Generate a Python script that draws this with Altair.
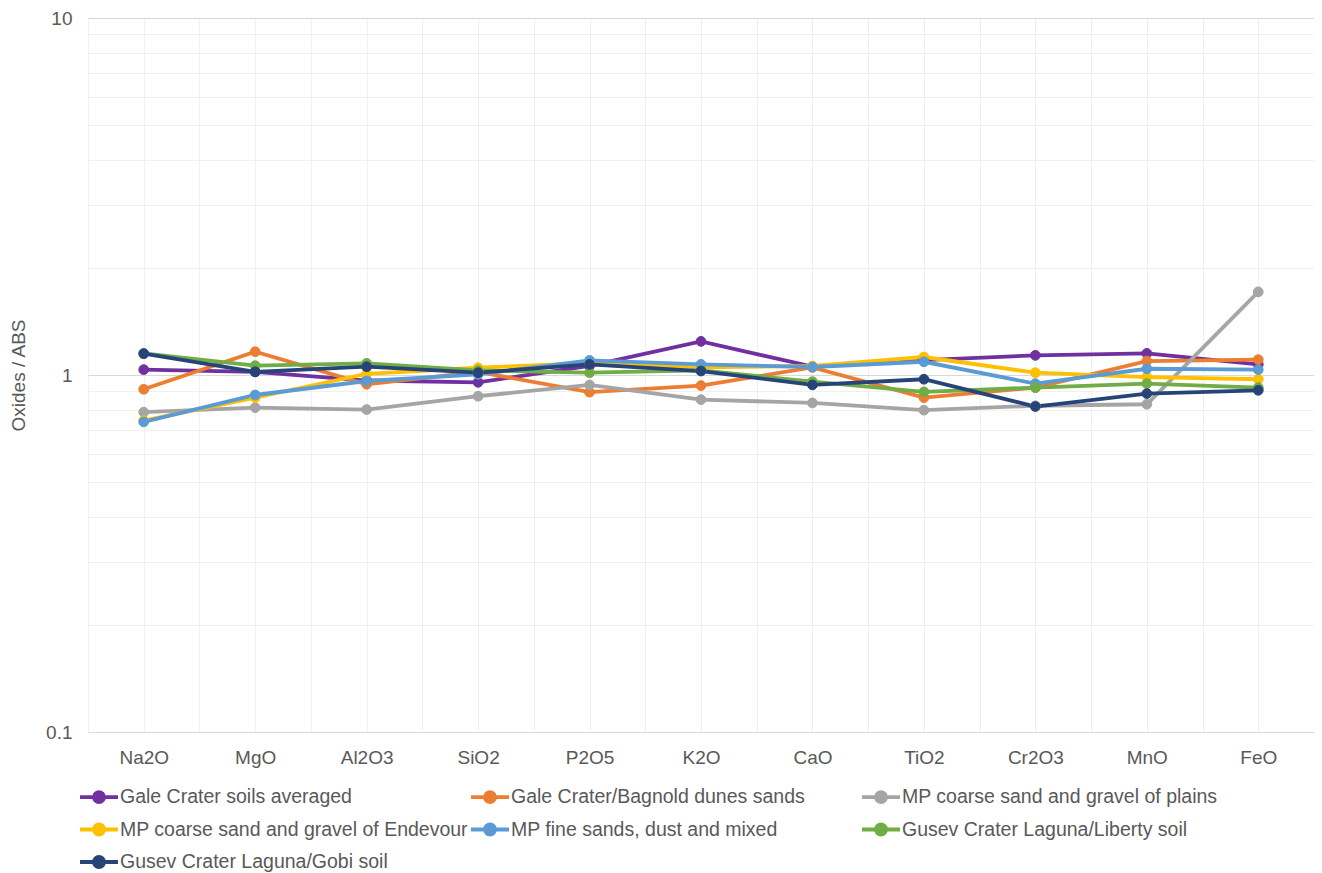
import altair as alt
import pandas as pd

oxides = ["Na2O", "MgO", "Al2O3", "SiO2", "P2O5", "K2O", "CaO", "TiO2", "Cr2O3", "MnO", "FeO"]

series_names = [
    "Gale Crater soils averaged",
    "Gale Crater/Bagnold dunes sands",
    "MP coarse sand and gravel of plains",
    "MP coarse sand and gravel of Endevour",
    "MP fine sands, dust and mixed",
    "Gusev Crater Laguna/Liberty soil",
    "Gusev Crater Laguna/Gobi soil",
]
series_colors = ["#7030A0", "#ED7D31", "#A5A5A5", "#FFC000", "#5B9BD5", "#70AD47", "#264478"]

gale_soils = [1.035, 1.02, 0.965, 0.954, 1.06, 1.242, 1.055, 1.10, 1.135, 1.150, 1.071]
gale_bagnold = [0.912, 1.162, 0.942, 1.02, 0.895, 0.934, 1.05, 0.864, 0.922, 1.094, 1.104]
mp_plains = [0.787, 0.810, 0.800, 0.872, 0.938, 0.853, 0.835, 0.797, 0.82, 0.828, 1.709]
mp_endevour = [0.745, 0.864, 1.008, 1.048, 1.08, 1.05, 1.06, 1.123, 1.015, 0.987, 0.973]
mp_fine = [0.739, 0.879, 0.962, 1.004, 1.099, 1.071, 1.053, 1.089, 0.946, 1.041, 1.035]
gusev_liberty = [1.15, 1.062, 1.078, 1.03, 1.015, 1.03, 0.958, 0.897, 0.922, 0.946, 0.922]
gusev_gobi = [1.147, 1.021, 1.055, 1.015, 1.071, 1.026, 0.938, 0.973, 0.816, 0.887, 0.906]

all_series = [gale_soils, gale_bagnold, mp_plains, mp_endevour, mp_fine, gusev_liberty, gusev_gobi]

rows = []
for s_i, (name, vals) in enumerate(zip(series_names, all_series)):
    for i, (ox, v) in enumerate(zip(oxides, vals)):
        rows.append({"idx": i, "oxide": ox, "series": name, "order": s_i, "value": v})
df = pd.DataFrame(rows)

FONT = "Liberation Sans"
TXT = "#595959"

x_vals = [round(-0.5 + 0.5 * k, 1) for k in range(2 * len(oxides) + 1)]
names_js = "[" + ",".join("'" + o + "'" for o in oxides) + "]"
x_label_expr = f"datum.value % 1 === 0 ? {names_js}[datum.value] : ''"

y_vals = []
for d in [0.1, 1.0]:
    for m in range(1, 10):
        y_vals.append(round(m * d, 2))
y_vals.append(10.0)
major_test = "abs(log(datum.value)/LN10 - round(log(datum.value)/LN10)) < 0.001"
y_label_expr = f"{major_test} ? format(datum.value, '~g') : ''"

x_enc = alt.X(
    "idx:Q",
    scale=alt.Scale(domain=[-0.5, len(oxides) - 0.5], nice=False, zero=False),
    axis=alt.Axis(
        values=x_vals, labelExpr=x_label_expr, title=None, ticks=False, domain=False,
        grid=True, gridColor="#F0F0F0", gridWidth=1, labelFont=FONT, labelFontSize=19,
        labelColor=TXT, labelPadding=16, labelOverlap=False, labelFlush=False,
    ),
)
y_enc = alt.Y(
    "value:Q",
    scale=alt.Scale(type="log", domain=[0.1, 10], nice=False),
    axis=alt.Axis(
        values=y_vals, labelExpr=y_label_expr, title="Oxides / ABS", ticks=False, domain=False,
        grid=True,
        gridColor=alt.condition(major_test, alt.value("#D9D9D9"), alt.value("#F0F0F0")),
        labelFont=FONT, labelFontSize=19, labelColor=TXT, labelPadding=16,
        titleFont=FONT, titleFontSize=19, titleColor=TXT, titleFontWeight="normal",
        titlePadding=17, labelOverlap=False,
    ),
)

legend_path = "M-1,0L2.8,0M1.4,0A0.5,0.5 0 1,1 0.4,0A0.5,0.5 0 1,1 1.4,0Z"
legend = alt.Legend(
    orient="none", legendX=-10, legendY=767, direction="horizontal", columns=3, title=None,
    symbolType=legend_path, symbolSize=400, symbolStrokeWidth=3.8,
    labelFont=FONT, labelFontSize=19.5, labelColor=TXT, labelOffset=18, labelLimit=500,
    rowPadding=6.5, columnPadding=-5, padding=0, gridAlign="all",
)
scale = alt.Scale(domain=series_names, range=series_colors)

lines = alt.Chart(df).mark_line(strokeWidth=3.8).encode(
    x=x_enc, y=y_enc,
    stroke=alt.Stroke("series:N", scale=scale, sort=series_names, legend=legend),
    order="idx:Q",
)
points = alt.Chart(df).mark_point(filled=True, size=95, opacity=1, strokeWidth=1).encode(
    x=x_enc, y=y_enc,
    stroke=alt.Stroke("series:N", scale=scale, sort=series_names, legend=legend),
    fill=alt.Fill("series:N", scale=scale, sort=series_names, legend=legend),
)

chart = alt.layer(lines, points).properties(
    width=1226, height=714,
    autosize=alt.AutoSizeParams(type="none"),
    padding={"left": 80, "top": 10, "right": 0, "bottom": 140},
).configure_view(stroke=None).configure(background="white")

chart.save("out.html", embed_options={"renderer": "svg", "actions": False})
